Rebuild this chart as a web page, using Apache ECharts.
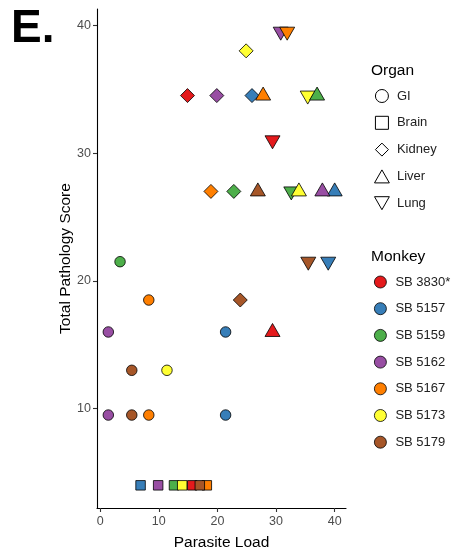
<!DOCTYPE html>
<html>
<head>
<meta charset="utf-8">
<script src="https://cdn.jsdelivr.net/npm/echarts@6/dist/echarts.min.js"></script>
<style>
  html, body { margin: 0; padding: 0; background: #fff; }
  #chart { width: 464px; height: 557px; }
</style>
</head>
<body>
<div id="chart"></div>
<script>
// Organ and monkey categories
const organs = ['GI', 'Brain', 'Kidney', 'Liver', 'Lung'];
const monkeys = ['SB 3830*', 'SB 5157', 'SB 5159', 'SB 5162', 'SB 5167', 'SB 5173', 'SB 5179'];
const monkeyColors = ['#E41A1C', '#377EB8', '#4DAF4A', '#984EA3', '#FF7F00', '#FFFF33', '#A65628'];

// Each point: [parasite load, total pathology score, monkey index]
const giPoints = [
  [21.4, 16, 1], [21.4, 9.5, 1], [3.4, 21.5, 2], [1.4, 16, 3], [1.4, 9.5, 3],
  [8.3, 18.5, 4], [8.3, 9.5, 4], [11.4, 13, 5], [5.4, 13, 6], [5.4, 9.5, 6]
];
const brainPoints = [
  [15.7, 4, 0], [6.9, 4, 1], [12.6, 4, 2], [9.9, 4, 3], [18.2, 4, 4], [14.0, 4, 5], [17.0, 4, 6]
];
const kidneyPoints = [
  [14.9, 34.5, 0], [25.9, 34.5, 1], [22.8, 27, 2], [19.9, 34.5, 3], [18.9, 27, 4], [24.9, 38, 5], [23.9, 18.5, 6]
];
const liverPoints = [
  [29.4, 16, 0], [40.0, 27, 1], [37.0, 34.5, 2], [37.9, 27, 3], [27.8, 34.5, 4], [33.9, 27, 5], [26.9, 27, 6]
];
const lungPoints = [
  [29.4, 31, 0], [38.9, 21.5, 1], [32.6, 27, 2], [30.8, 39.5, 3], [31.9, 39.5, 4], [35.4, 34.5, 5], [35.5, 21.5, 6]
];

// Axis tick values
const xTicks = [0, 10, 20, 30, 40];
const yTicks = [10, 20, 30, 40];

const FONT = 'Liberation Sans, Arial, sans-serif';

// Shapes used for each organ (points and legend icons)
const triUp = 'path://M1,0L2,1.75L0,1.75Z';
const triDown = 'path://M0,0L2,0L1,1.75Z';
const diamond = 'path://M1,0L2,1L1,2L0,1Z';
const organStyle = {
  GI:     { symbol: 'circle', size: 10.5, offset: [0, 0], icon: 'circle' },
  Brain:  { symbol: 'rect', size: 9.5, offset: [0, 0], icon: 'path://M0,0H1V1H0Z' },
  Kidney: { symbol: diamond, size: [14, 14], offset: [0, 0], icon: diamond },
  Liver:  { symbol: triUp, size: [15, 13], offset: [0, -2], icon: triUp },
  Lung:   { symbol: triDown, size: [15, 13], offset: [0, 2], icon: triDown }
};

function organSeries(name, points) {
  const s = organStyle[name];
  return {
    type: 'scatter',
    name: name,
    data: points,
    symbol: s.symbol,
    symbolSize: s.size,
    symbolOffset: s.offset,
    symbolKeepAspect: false,
    itemStyle: {
      color: p => monkeyColors[p.value[2]],
      borderColor: '#000',
      borderWidth: 0.8,
      opacity: 1
    },
    emphasis: { disabled: true },
    silent: true
  };
}

// Drawing order: lung before liver so liver marks sit on top
const series = [
  organSeries('GI', giPoints),
  organSeries('Brain', brainPoints),
  organSeries('Kidney', kidneyPoints),
  organSeries('Lung', lungPoints),
  organSeries('Liver', liverPoints)
];
// Empty series that carry the monkey colours into the second legend
monkeys.forEach((m, i) => {
  series.push({
    type: 'scatter',
    name: m,
    data: [],
    itemStyle: { color: monkeyColors[i], borderColor: '#000', borderWidth: 0.8, opacity: 1 }
  });
});

// ggplot-style 5% padding around the data range
const pad = v => 0.05 * (v.max - v.min);

const chart = echarts.init(document.getElementById('chart'), null, { renderer: 'canvas' });
chart.setOption({
  animation: false,
  backgroundColor: '#fff',
  grid: { left: 97, right: 118, top: 9, bottom: 49, containLabel: false },
  xAxis: {
    type: 'value',
    min: v => v.min - pad(v),
    max: v => v.max + pad(v),
    name: 'Parasite Load',
    nameLocation: 'middle',
    nameGap: 27,
    nameMoveOverlap: false,
    nameTextStyle: { fontFamily: FONT, fontSize: 15.5, color: '#000' },
    axisLine: { show: true, onZero: false, lineStyle: { color: '#000', width: 1.1 } },
    axisTick: { show: true, length: 4, customValues: xTicks, lineStyle: { color: '#333', width: 1.1 } },
    axisLabel: { customValues: xTicks, fontFamily: FONT, fontSize: 12.5, color: '#4D4D4D', margin: 7 },
    splitLine: { show: false }
  },
  yAxis: {
    type: 'value',
    min: v => v.min - pad(v),
    max: v => v.max + pad(v),
    name: 'Total Pathology Score',
    nameLocation: 'middle',
    nameGap: 23,
    nameMoveOverlap: false,
    nameTextStyle: { fontFamily: FONT, fontSize: 15.5, color: '#000' },
    axisLine: { show: true, onZero: false, lineStyle: { color: '#000', width: 1.1 } },
    axisTick: { show: true, length: 4, customValues: yTicks, lineStyle: { color: '#333', width: 1.1 } },
    axisLabel: { customValues: yTicks, fontFamily: FONT, fontSize: 12.5, color: '#4D4D4D', margin: 6 },
    splitLine: { show: false }
  },
  legend: [
    {
      orient: 'vertical',
      left: 374,
      top: 89,
      padding: 0,
      itemWidth: 20,
      itemHeight: 13,
      itemGap: 12.8,
      selectedMode: false,
      data: organs.map(o => ({ name: o, icon: organStyle[o].icon })),
      itemStyle: { color: '#fff', borderColor: '#000', borderWidth: 1, opacity: 1 },
      textStyle: { fontFamily: FONT, fontSize: 13, color: '#222', lineHeight: 14 }
    },
    {
      orient: 'vertical',
      left: 374,
      top: 275,
      padding: 0,
      itemWidth: 20,
      itemHeight: 12,
      itemGap: 12.7,
      selectedMode: false,
      icon: 'circle',
      data: monkeys,
      itemStyle: { borderColor: '#000', borderWidth: 0.8, opacity: 1 },
      textStyle: { fontFamily: FONT, fontSize: 13, color: '#222', lineHeight: 14 }
    }
  ],
  graphic: [
    { type: 'text', left: 11, top: 6, style: { text: 'E.', font: 'bold 46px ' + FONT, fill: '#000' } },
    { type: 'text', left: 371, top: 63, style: { text: 'Organ', font: '15.5px ' + FONT, fill: '#000' } },
    { type: 'text', left: 371, top: 249, style: { text: 'Monkey', font: '15.5px ' + FONT, fill: '#000' } }
  ],
  series: series
});
</script>
</body>
</html>
